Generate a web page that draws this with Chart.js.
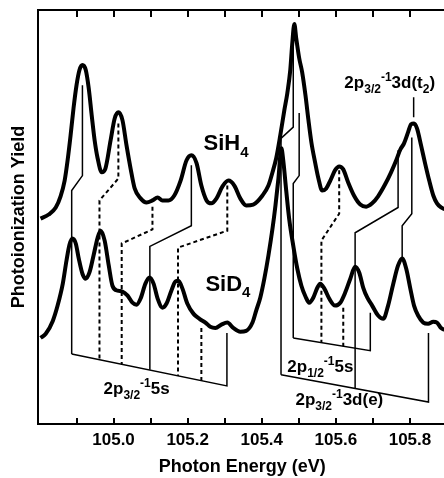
<!DOCTYPE html>
<html>
<head>
<meta charset="utf-8">
<script src="https://cdn.jsdelivr.net/npm/chart.js@4.4.1/dist/chart.umd.min.js"></script>
<style>
  html, body { margin: 0; padding: 0; background: #fff; overflow: hidden; }
  canvas { display: block; }
</style>
</head>
<body>
<canvas id="chart" width="450" height="478"></canvas>
<script>
// Photon energy (eV) / yield (arb. units)
const sih4Energy = [104.803, 104.825, 104.844, 104.857, 104.868, 104.876, 104.884, 104.892, 104.900, 104.908,
  104.916, 104.925, 104.933, 104.941, 104.949, 104.957, 104.968, 104.978, 104.992, 105.003,
  105.013, 105.024, 105.035, 105.046, 105.057, 105.073, 105.089, 105.105, 105.119, 105.132,
  105.148, 105.164, 105.181, 105.197, 105.210, 105.224, 105.237, 105.251, 105.264, 105.278,
  105.294, 105.310, 105.326, 105.342, 105.358, 105.377, 105.402, 105.418, 105.429, 105.439,
  105.450, 105.461, 105.469, 105.477, 105.482, 105.488, 105.493, 105.501, 105.509, 105.518,
  105.526, 105.534, 105.544, 105.553, 105.563, 105.574, 105.585, 105.598, 105.609, 105.620,
  105.633, 105.650, 105.666, 105.682, 105.698, 105.714, 105.733, 105.749, 105.763, 105.774,
  105.784, 105.795, 105.803, 105.811, 105.819, 105.830, 105.841, 105.852, 105.863, 105.873,
  105.884, 105.903];
const sih4Yield = [49.6, 50.6, 52.3, 55.0, 58.8, 63.7, 69.7, 76.3, 81.8, 85.5,
  86.7, 85.5, 81.1, 74.6, 68.5, 64.2, 60.8, 61.7, 68.5, 73.8,
  75.3, 73.4, 67.3, 61.7, 56.9, 54.5, 53.5, 54.0, 54.7, 54.0,
  54.0, 55.2, 58.8, 63.7, 64.9, 63.0, 57.6, 54.0, 53.3, 54.5,
  57.4, 58.8, 57.6, 54.5, 52.8, 53.0, 55.2, 57.6, 60.8, 64.2,
  69.7, 75.8, 79.9, 85.5, 91.5, 96.6, 93.2, 88.4, 85.0, 79.4,
  73.4, 68.0, 63.2, 59.3, 56.4, 56.9, 58.8, 61.3, 62.2, 61.5,
  58.4, 55.0, 53.0, 52.5, 53.3, 55.0, 57.9, 60.8, 63.7, 66.3,
  67.8, 70.5, 72.4, 72.6, 71.4, 67.3, 62.9, 58.8, 55.2, 53.3,
  52.3, 51.6];

const sid4Energy = [104.803, 104.817, 104.836, 104.849, 104.863, 104.873, 104.881, 104.889, 104.898, 104.906,
  104.916, 104.925, 104.935, 104.946, 104.957, 104.965, 104.976, 104.987, 104.997, 105.011,
  105.024, 105.038, 105.051, 105.062, 105.073, 105.086, 105.097, 105.108, 105.119, 105.132,
  105.143, 105.156, 105.167, 105.175, 105.186, 105.199, 105.216, 105.232, 105.248, 105.261,
  105.275, 105.291, 105.307, 105.323, 105.342, 105.358, 105.375, 105.385, 105.396, 105.407,
  105.418, 105.429, 105.437, 105.445, 105.453, 105.458, 105.466, 105.474, 105.485, 105.496,
  105.507, 105.518, 105.528, 105.539, 105.550, 105.558, 105.569, 105.582, 105.598, 105.612,
  105.625, 105.639, 105.652, 105.663, 105.674, 105.685, 105.698, 105.714, 105.728, 105.741,
  105.755, 105.768, 105.779, 105.790, 105.801, 105.811, 105.822, 105.836, 105.849, 105.863,
  105.873, 105.884, 105.903];
const sid4Yield = [20.8, 21.8, 24.9, 28.6, 33.9, 39.5, 43.3, 44.8, 43.6, 40.0,
  36.3, 35.1, 36.6, 40.7, 45.0, 46.7, 44.3, 38.3, 33.4, 32.2,
  32.0, 31.0, 29.3, 28.8, 30.3, 33.9, 35.4, 33.9, 30.3, 28.1,
  29.1, 32.2, 34.4, 34.6, 32.7, 29.1, 26.6, 25.4, 24.5, 23.5,
  23.2, 24.0, 24.5, 23.2, 22.3, 22.5, 24.5, 27.4, 30.5, 35.1,
  40.7, 47.2, 52.8, 59.3, 66.6, 63.7, 56.4, 49.6, 43.1, 37.5,
  33.4, 30.8, 29.3, 30.5, 32.9, 33.9, 32.7, 30.3, 28.6, 29.3,
  31.7, 35.1, 38.0, 36.6, 32.9, 30.5, 28.6, 26.2, 25.4, 28.6,
  33.9, 38.3, 40.0, 37.5, 32.7, 28.6, 26.2, 24.5, 24.2, 24.7,
  24.5, 23.2, 22.5];

const xMin = 104.795;
const xMax = 105.9;
const xTicks = [104.9, 105.0, 105.1, 105.2, 105.3, 105.4, 105.5, 105.6, 105.7, 105.8];

// assignment lines, [energy, yield] vertices
const solidLinks = [
  [[104.916, 81.8], [104.916, 60.0], [104.887, 56.4], [104.887, 16.9]],
  [[105.210, 62.5], [105.210, 47.9], [105.098, 42.9], [105.098, 13.1]],
  [[104.887, 16.9], [105.306, 9.2], [105.306, 22.0]],
  [[105.485, 93.9], [105.485, 71.7], [105.452, 69.0], [105.452, 11.9]],
  [[105.501, 75.1], [105.501, 60.0], [105.485, 58.1], [105.485, 20.8]],
  [[105.485, 20.8], [105.693, 17.7], [105.693, 26.9]],
  [[105.452, 11.9], [105.850, 5.3], [105.850, 22.0]],
  [[105.768, 66.1], [105.768, 52.3], [105.652, 46.2], [105.652, 8.6]],
  [[105.805, 69.2], [105.805, 50.8], [105.779, 47.9], [105.779, 40.0]],
  [[105.810, 78.9], [105.810, 74.1]]
];
const dashedLinks = [
  [[105.013, 72.6], [105.013, 59.3], [104.962, 54.0], [104.962, 15.5]],
  [[105.105, 52.5], [105.105, 47.0], [105.022, 43.6], [105.022, 14.5]],
  [[105.307, 57.6], [105.307, 46.7], [105.174, 42.6], [105.174, 11.6]],
  [[105.237, 23.2], [105.237, 10.4]],
  [[105.609, 61.3], [105.609, 50.8], [105.561, 44.3], [105.561, 19.7]],
  [[105.620, 28.1], [105.620, 18.8]]
];

// text labels: runs of normal / sub / sup text, anchored at [energy, yield]
const annotations = [
  { at: [105.243, 66.1], size: 22, parts: [['SiH'], ['4', 'sub']] },
  { at: [105.248, 32.2], size: 22, parts: [['SiD'], ['4', 'sub']] },
  { at: [105.623, 81.1], size: 17, parts: [['2p'], ['3/2', 'sub'], ['-1', 'sup'], ['3d(t'], ['2', 'sub'], [')']] },
  { at: [104.973, 7.3], size: 17, parts: [['2p'], ['3/2', 'sub'], ['-1', 'sup'], ['5s']] },
  { at: [105.469, 12.6], size: 17, parts: [['2p'], ['1/2', 'sub'], ['-1', 'sup'], ['5s']] },
  { at: [105.491, 4.6], size: 17, parts: [['2p'], ['3/2', 'sub'], ['-1', 'sup'], ['3d(e)']] }
];

const FONT = '"Liberation Sans", Arial, sans-serif';

const toPoints = (xs, ys) => xs.map((x, i) => ({ x, y: ys[i] }));
const toXY = path => path.map(([x, y]) => ({ x, y }));

const datasets = [
  { data: toPoints(sih4Energy, sih4Yield), borderColor: '#000', borderWidth: 4, cubicInterpolationMode: 'monotone', order: 0 },
  { data: toPoints(sid4Energy, sid4Yield), borderColor: '#000', borderWidth: 4, cubicInterpolationMode: 'monotone', order: 0 }
];
solidLinks.forEach(p => datasets.push({ data: toXY(p), borderColor: '#000', borderWidth: 1.5, tension: 0, order: 1 }));
dashedLinks.forEach(p => datasets.push({ data: toXY(p), borderColor: '#000', borderWidth: 2, borderDash: [4, 3], tension: 0, order: 1 }));

// inward tick marks on top and bottom + the rich text labels
const extras = {
  id: 'extras',
  afterDatasetsDraw(chart) {
    const { ctx, chartArea: a, scales: { x, y } } = chart;
    ctx.save();
    ctx.strokeStyle = '#000';
    ctx.lineWidth = 2;
    xTicks.forEach(v => {
      const px = Math.round(x.getPixelForValue(v));
      ctx.beginPath();
      ctx.moveTo(px, a.bottom);
      ctx.lineTo(px, a.bottom - 6);
      ctx.moveTo(px, a.top);
      ctx.lineTo(px, a.top + 7);
      ctx.stroke();
    });

    ctx.fillStyle = '#000';
    ctx.textBaseline = 'alphabetic';
    annotations.forEach(lab => {
      let px = x.getPixelForValue(lab.at[0]);
      const py = y.getPixelForValue(lab.at[1]);
      lab.parts.forEach(([t, kind]) => {
        const small = kind === 'sub' || kind === 'sup';
        const size = small ? Math.round(lab.size * 0.68) : lab.size;
        const dy = kind === 'sub' ? lab.size * 0.3 : kind === 'sup' ? -lab.size * 0.42 : 0;
        ctx.font = 'bold ' + size + 'px ' + FONT;
        ctx.fillText(t, px, py + dy);
        px += ctx.measureText(t).width;
      });
    });
    ctx.restore();
  }
};

new Chart(document.getElementById('chart'), {
  type: 'line',
  data: { datasets },
  options: {
    responsive: false,
    animation: false,
    devicePixelRatio: 1,
    layout: { padding: { top: 10, right: 3, left: 4, bottom: 0 } },
    plugins: { legend: { display: false }, tooltip: { enabled: false } },
    elements: { point: { radius: 0 } },
    scales: {
      x: {
        type: 'linear', min: xMin, max: xMax,
        afterBuildTicks: s => { s.ticks = xTicks.map(v => ({ value: v })); },
        grid: { display: false, drawTicks: false },
        border: { display: true, color: '#000', width: 2 },
        ticks: {
          color: '#000', padding: 6, maxRotation: 0, autoSkip: false,
          font: { family: FONT, size: 17, weight: 'bold' },
          callback: v => (Math.round(v * 10) % 2 === 0 ? v.toFixed(1) : '')
        },
        title: {
          display: true, text: 'Photon Energy (eV)', color: '#000',
          font: { family: FONT, size: 18, weight: 'bold' },
          padding: { top: 0, bottom: 0 }
        }
      },
      x2: {
        type: 'linear', position: 'top', min: xMin, max: xMax,
        ticks: { display: false },
        grid: { display: false, drawTicks: false },
        border: { display: true, color: '#000', width: 2 }
      },
      y: {
        min: 0, max: 100,
        ticks: { display: false },
        grid: { display: false, drawTicks: false },
        border: { display: true, color: '#000', width: 2 },
        title: {
          display: true, text: 'Photoionization Yield', color: '#000',
          font: { family: FONT, size: 18, weight: 'bold' },
          padding: { top: 4, bottom: 8 }
        }
      }
    }
  },
  plugins: [extras]
});
</script>
</body>
</html>
